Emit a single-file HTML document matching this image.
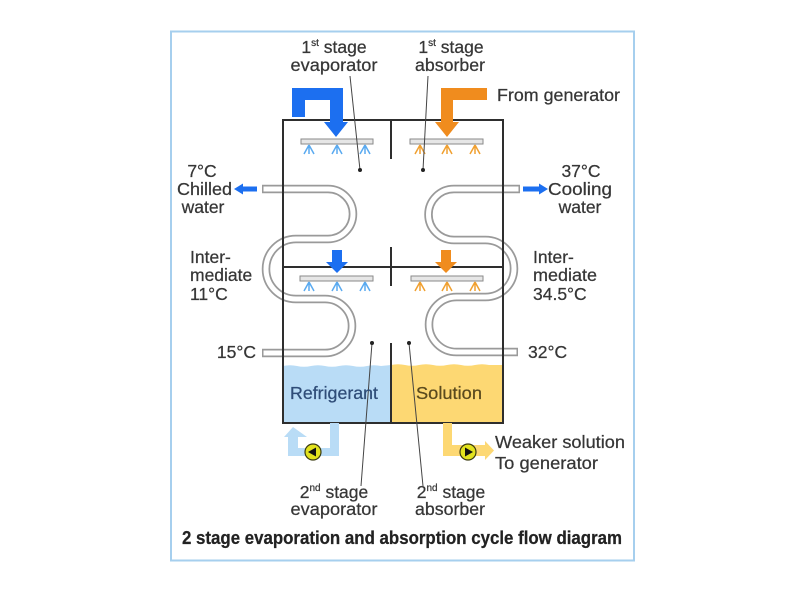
<!DOCTYPE html>
<html>
<head>
<meta charset="utf-8">
<style>
  html,body{margin:0;padding:0;background:#fff;}
  svg{display:block;}
  text{font-family:"Liberation Sans",Arial,sans-serif;fill:#363636;stroke:#363636;stroke-width:0.25;}
</style>
</head>
<body>
<svg width="800" height="600" viewBox="0 0 800 600" xmlns="http://www.w3.org/2000/svg">
  <rect x="0" y="0" width="800" height="600" fill="#ffffff"/>
  <!-- outer frame -->
  <rect x="171" y="31.5" width="463" height="529" fill="#ffffff" stroke="#a6cfee" stroke-width="2"/>

  <!-- liquids -->
  <path d="M283 366 Q290 364.5 297 366 T311 366 T325 366 T339 366 T353 366 T367 366 T381 366 L391 365 L391 423 L283 423 Z" fill="#b9dcf6"/>
  <path d="M391 365 Q398 363.5 405 365 T419 365 T433 365 T447 365 T461 365 T475 365 T489 365 L503 365 L503 423 L391 423 Z" fill="#fdd873"/>

  <!-- coils: outer grey -->
  <g fill="none" stroke="#9a9a9a" stroke-width="8.5">
    <path d="M262 189 H328 A25 25 0 0 1 328 239 H296 A30 30 0 0 0 296 299 H325 A27 27 0 0 1 325 353 H262"/>
    <path d="M520 189 H454 A25.5 25.5 0 0 0 454 240 H485.5 A28.5 28.5 0 0 1 485.5 297 H456.5 A27.5 27.5 0 0 0 456.5 352 H518"/>
  </g>
  <g fill="none" stroke="#ffffff" stroke-width="5">
    <path d="M263.5 189 H328 A25 25 0 0 1 328 239 H296 A30 30 0 0 0 296 299 H325 A27 27 0 0 1 325 353 H263.5"/>
    <path d="M518.5 189 H454 A25.5 25.5 0 0 0 454 240 H485.5 A28.5 28.5 0 0 1 485.5 297 H456.5 A27.5 27.5 0 0 0 456.5 352 H516.5"/>
  </g>

  <!-- vessel walls -->
  <g stroke="#2e2e2e" stroke-width="2" fill="none">
    <path d="M283 120 H503 V423 H283 Z"/>
    <line x1="391" y1="120" x2="391" y2="159"/>
    <line x1="283" y1="267" x2="503" y2="267"/>
    <line x1="391" y1="247" x2="391" y2="286"/>
    <line x1="391" y1="343" x2="391" y2="423"/>
  </g>

  <!-- top blue inlet -->
  <polygon points="292,88 343,88 343,122 348,122 336,137 324,122 330,122 330,100 305,100 305,117 292,117" fill="#1c6ff0"/>
  <!-- top orange inlet -->
  <polygon points="441,88 487,88 487,100 453,100 453,122 459,122 447,137 435,122 441,122" fill="#f08c1e"/>
  <!-- middle arrows -->
  <polygon points="332,250 342,250 342,262 348,262 337,273 326,262 332,262" fill="#1c6ff0"/>
  <polygon points="441,250 451,250 451,262 457,262 446,273 435,262 441,262" fill="#f08c1e"/>

  <!-- spray bars -->
  <g fill="#e6e6e6" stroke="#8a8a8a" stroke-width="1">
    <rect x="301" y="139" width="72" height="5"/>
    <rect x="410" y="139" width="73" height="5"/>
    <rect x="300" y="276" width="73" height="5"/>
    <rect x="411" y="276" width="72" height="5"/>
  </g>
  <!-- nozzles -->
  <g stroke="#5aaaf0" stroke-width="1.5" fill="none">
    <path d="M309 145 l-5 9 M309 145 v9 M309 145 l5 9"/>
    <path d="M337 145 l-5 9 M337 145 v9 M337 145 l5 9"/>
    <path d="M365 145 l-5 9 M365 145 v9 M365 145 l5 9"/>
    <path d="M309 282 l-5 9 M309 282 v9 M309 282 l5 9"/>
    <path d="M337 282 l-5 9 M337 282 v9 M337 282 l5 9"/>
    <path d="M365 282 l-5 9 M365 282 v9 M365 282 l5 9"/>
  </g>
  <g stroke="#f0a030" stroke-width="1.5" fill="none">
    <path d="M420 145 l-5 9 M420 145 v9 M420 145 l5 9"/>
    <path d="M447 145 l-5 9 M447 145 v9 M447 145 l5 9"/>
    <path d="M475 145 l-5 9 M475 145 v9 M475 145 l5 9"/>
    <path d="M420 282 l-5 9 M420 282 v9 M420 282 l5 9"/>
    <path d="M447 282 l-5 9 M447 282 v9 M447 282 l5 9"/>
    <path d="M475 282 l-5 9 M475 282 v9 M475 282 l5 9"/>
  </g>

  <!-- chilled / cooling water arrows -->
  <polygon points="257,186.5 243,186.5 243,183.5 234,189 243,194.5 243,191.5 257,191.5" fill="#1c6ff0"/>
  <polygon points="523,186.5 539,186.5 539,183.5 548,189 539,194.5 539,191.5 523,191.5" fill="#1c6ff0"/>

  <!-- bottom refrigerant pipe -->
  <path d="M330 423 H339 V456 H288 V437 H284 L293 427 L307 437 H298 V448 H330 Z" fill="#b9dcf6"/>
  <!-- bottom solution pipe -->
  <path d="M443 423 H452 V445 H485 V441 L494 450.5 L485 460 V456 H443 Z" fill="#fdd873"/>
  <!-- pumps -->
  <circle cx="313" cy="452" r="8" fill="#e2e21e" stroke="#3a3a10" stroke-width="1.2"/>
  <polygon points="308,452 316,447.5 316,456.5" fill="#111"/>
  <circle cx="468" cy="452" r="8" fill="#e2e21e" stroke="#3a3a10" stroke-width="1.2"/>
  <polygon points="473,452 465,447.5 465,456.5" fill="#111"/>

  <!-- leader lines -->
  <g stroke="#444" stroke-width="1" fill="none">
    <line x1="350" y1="76" x2="360" y2="170"/>
    <line x1="428" y1="76" x2="423" y2="170"/>
    <line x1="372" y1="343" x2="361" y2="486"/>
    <line x1="409" y1="343" x2="423" y2="486"/>
  </g>
  <g fill="#222">
    <circle cx="360" cy="170" r="2"/>
    <circle cx="423" cy="170" r="2"/>
    <circle cx="372" cy="343" r="2"/>
    <circle cx="409" cy="343" r="2"/>
  </g>

  <!-- labels -->
  <g font-size="17.5">
    <text x="334" y="53" text-anchor="middle">1<tspan font-size="10" dy="-7">st</tspan><tspan dy="7"> stage</tspan></text>
    <text x="334" y="71" text-anchor="middle" textLength="87" lengthAdjust="spacingAndGlyphs">evaporator</text>
    <text x="451" y="53" text-anchor="middle">1<tspan font-size="10" dy="-7">st</tspan><tspan dy="7"> stage</tspan></text>
    <text x="450" y="71" text-anchor="middle" textLength="70" lengthAdjust="spacingAndGlyphs">absorber</text>
    <text x="497" y="101" textLength="123" lengthAdjust="spacingAndGlyphs">From generator</text>

    <text x="202" y="177" text-anchor="middle">7°C</text>
    <text x="177" y="195" textLength="55" lengthAdjust="spacingAndGlyphs">Chilled</text>
    <text x="203" y="213" text-anchor="middle">water</text>
    <text x="190" y="263">Inter-</text>
    <text x="190" y="281">mediate</text>
    <text x="190" y="300">11°C</text>
    <text x="256" y="358" text-anchor="end">15°C</text>

    <text x="581" y="177" text-anchor="middle">37°C</text>
    <text x="580" y="195" text-anchor="middle" textLength="64" lengthAdjust="spacingAndGlyphs">Cooling</text>
    <text x="580" y="213" text-anchor="middle">water</text>
    <text x="533" y="263">Inter-</text>
    <text x="533" y="281" textLength="64" lengthAdjust="spacingAndGlyphs">mediate</text>
    <text x="533" y="300">34.5°C</text>
    <text x="528" y="358">32°C</text>

    <text x="290" y="399" textLength="88" lengthAdjust="spacingAndGlyphs" style="fill:#2f4d78;stroke:#2f4d78">Refrigerant</text>
    <text x="416" y="399" textLength="66" lengthAdjust="spacingAndGlyphs" style="fill:#5a4a1e;stroke:#5a4a1e">Solution</text>

    <text x="495" y="448" textLength="130" lengthAdjust="spacingAndGlyphs">Weaker solution</text>
    <text x="495" y="469" textLength="103" lengthAdjust="spacingAndGlyphs">To generator</text>

    <text x="334" y="498" text-anchor="middle">2<tspan font-size="10" dy="-7">nd</tspan><tspan dy="7"> stage</tspan></text>
    <text x="334" y="515" text-anchor="middle" textLength="87" lengthAdjust="spacingAndGlyphs">evaporator</text>
    <text x="451" y="498" text-anchor="middle">2<tspan font-size="10" dy="-7">nd</tspan><tspan dy="7"> stage</tspan></text>
    <text x="450" y="515" text-anchor="middle" textLength="70" lengthAdjust="spacingAndGlyphs">absorber</text>
  </g>
  <text x="182" y="544" font-size="18" font-weight="bold" textLength="440" lengthAdjust="spacingAndGlyphs" style="fill:#222;stroke:#222">2 stage evaporation and absorption cycle flow diagram</text>
</svg>
</body>
</html>
